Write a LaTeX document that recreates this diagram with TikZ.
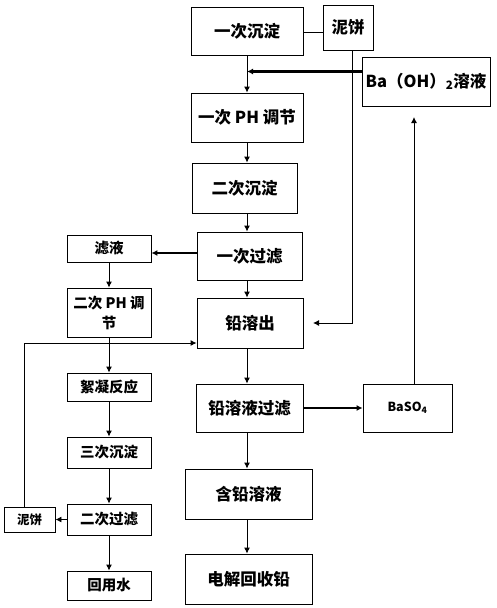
\documentclass[tikz,border=0pt]{standalone}
\usepackage{fontspec}
\setmainfont{Noto Sans CJK SC}
\usetikzlibrary{arrows.meta}
\begin{document}
\begin{tikzpicture}[x=1pt,y=-1pt]
% Flow chart, coordinates in pixels from the top left corner
\providecommand{\flowLineWidth}{0.9pt}
\providecommand{\flowFeedWidth}{2.4pt}
\providecommand{\flowBoxWidth}{0.9pt}
\tikzset{
  flowbox/.style={draw=black, line width=\flowBoxWidth, inner sep=0pt, align=center,
    font=\fontsize{16.5}{19}\selectfont\bfseries},
  sidebox/.style={flowbox, minimum width=84pt, font=\fontsize{14.5}{20}\selectfont\bfseries},
  flowarr/.style={draw=black, line width=\flowLineWidth, -{Latex[length=6pt,width=6pt]}},
  feedarr/.style={flowarr, line width=\flowFeedWidth},
  plainline/.style={draw=black, line width=\flowLineWidth},
}
\useasboundingbox (0,0) rectangle (496,608);
% Main column
\node[flowbox, minimum width=112pt, minimum height=48pt] (cdA) at (247,31) {一次沉淀};
\node[flowbox, minimum width=112pt, minimum height=49pt] (phA) at (247,117.5) {一次 PH 调节};
\node[flowbox, minimum width=105pt, minimum height=50pt] (cdB) at (244.5,188) {二次沉淀};
\node[flowbox, minimum width=105pt, minimum height=48pt] (glA) at (249.5,256) {一次过滤};
\node[flowbox, minimum width=106pt, minimum height=50pt] (qrc) at (250,323) {铅溶出};
\node[flowbox, minimum width=107pt, minimum height=48pt] (qgl) at (249.5,408) {铅溶液过滤};
\node[flowbox, minimum width=127pt, minimum height=50pt] (hqr) at (248.5,494) {含铅溶液};
\node[flowbox, minimum width=127pt, minimum height=50pt] (djh) at (248.5,579) {电解回收铅};
% Right side
\node[flowbox, minimum width=50pt, minimum height=45pt] (nbA) at (348,27.5) {泥饼};
\node[flowbox, minimum width=128pt, minimum height=49pt] (baoh) at (426,81.5)
  {Ba（OH）\textsubscript{2}溶液};
\node[flowbox, minimum width=89pt, minimum height=48pt,
  font=\fontsize{12.5}{14}\selectfont\bfseries] (baso) at (407.5,408) {BaSO\textsubscript{4}};
% Left column
\node[sidebox, minimum height=27pt] (lye) at (109,248.5) {滤液};
\node[sidebox, minimum height=49pt] (phB) at (109,312.5) {二次 PH 调\\节};
\node[sidebox, minimum height=28pt] (xnf) at (109,387) {絮凝反应};
\node[sidebox, minimum height=31pt] (cdC) at (109,452.5) {三次沉淀};
\node[sidebox, minimum height=31pt] (glB) at (109,519.5) {二次过滤};
\node[sidebox, minimum height=29pt] (hys) at (109,585.5) {回用水};
\node[flowbox, minimum width=51pt, minimum height=25pt,
  font=\fontsize{12.5}{14}\selectfont\bfseries] (nbB) at (29.5,519.5) {泥饼};
% Free ends of the return lines
\coordinate (toQrc) at (313,323);
\coordinate (toBaoh) at (414,117);
% Main column arrows
\draw[flowarr] (cdA.south -| 247,0) -- (phA.north -| 247,0);
\draw[flowarr] (phA.south -| 247,0) -- (cdB.north -| 247,0);
\draw[flowarr] (cdB.south -| 247,0) -- (glA.north -| 247,0);
\draw[flowarr] (glA.south -| 247,0) -- (qrc.north -| 247,0);
\draw[flowarr] (qrc.south -| 247,0) -- (qgl.north -| 247,0);
\draw[flowarr] (qgl.south -| 247,0) -- (hqr.north -| 247,0);
\draw[flowarr] (hqr.south -| 247,0) -- (djh.north -| 247,0);
% Left column arrows
\draw[flowarr] (lye) -- (phB);
\draw[flowarr] (phB) -- (xnf);
\draw[flowarr] (xnf) -- (cdC);
\draw[flowarr] (cdC) -- (glB);
\draw[flowarr] (glB) -- (hys);
\draw[flowarr] (glB) -- (nbB);
% Sludge and reagent lines
\draw[plainline] (cdA.east |- 0,32) -- (nbA.west |- 0,32);
\draw[flowarr] (nbA.south -| 352,0) |- (toQrc);
\draw[feedarr] ([yshift=10pt]baoh.west) -- ([yshift=10pt]baoh.west -| 247,0);
\draw[flowarr] (baso.north -| toBaoh) -- (toBaoh);
\draw[feedarr] ([yshift=3pt]glA.west) -- ([yshift=3pt]glA.west -| lye.east);
\draw[feedarr] (qgl.east) -- (baso.west);
\draw[flowarr] (nbB.north -| 24,0) |- ([yshift=-20pt]qrc.west);
\end{tikzpicture}
\end{document}
